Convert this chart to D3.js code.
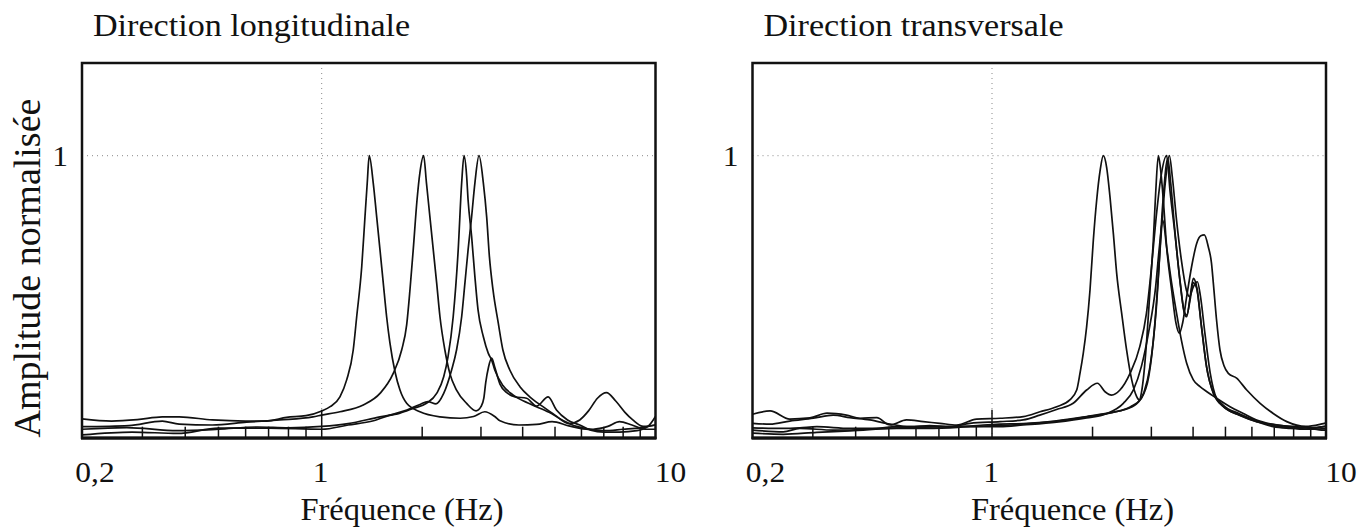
<!DOCTYPE html>
<html>
<head>
<meta charset="utf-8">
<script src="https://cdn.jsdelivr.net/npm/d3@7"></script>
<style>
  html, body { margin: 0; padding: 0; background: #fff; }
  svg text { font-family: "Liberation Serif", "Times New Roman", serif; fill: #111; }
</style>
</head>
<body>
<svg id="chart" width="1357" height="527"></svg>
<script>
// Normalised amplitude spectra, [frequency (Hz), amplitude]
// Longitudinal direction
const long1 = [[0.2,0.067],[0.244,0.059],[0.29,0.064],[0.343,0.074],[0.384,0.074],[0.48,0.063],[0.6,0.059],[0.69,0.059],[0.79,0.072],[0.9,0.078],[1.0,0.095],[1.06,0.11],[1.134,0.145],[1.188,0.205],[1.243,0.311],[1.273,0.429],[1.318,0.606],[1.348,0.784],[1.369,0.903],[1.388,1.0],[1.427,0.903],[1.461,0.784],[1.495,0.666],[1.529,0.549],[1.565,0.429],[1.601,0.336],[1.658,0.234],[1.716,0.169],[1.797,0.122],[1.969,0.092],[2.261,0.074],[2.6,0.069],[2.85,0.075],[3.08,0.092],[3.3,0.075],[3.42,0.06],[3.9,0.045],[4.4,0.047],[4.9,0.057],[5.5,0.042],[6.2,0.03],[7.0,0.025],[8.0,0.03],[9.0,0.035],[10,0.045]];
const long2 = [[0.2,0.039],[0.274,0.043],[0.343,0.059],[0.384,0.048],[0.48,0.045],[0.604,0.055],[0.755,0.063],[0.943,0.074],[1.0,0.08],[1.134,0.092],[1.332,0.116],[1.495,0.157],[1.638,0.228],[1.736,0.311],[1.797,0.40],[1.84,0.53],[1.88,0.666],[1.93,0.843],[1.969,0.94],[2.02,1.0],[2.06,0.903],[2.109,0.784],[2.159,0.666],[2.21,0.549],[2.261,0.429],[2.339,0.311],[2.42,0.228],[2.535,0.169],[2.717,0.122],[2.9,0.095],[3.0,0.11],[3.06,0.14],[3.1,0.195],[3.16,0.25],[3.23,0.282],[3.3,0.25],[3.42,0.19],[3.6,0.158],[3.8,0.145],[4.11,0.14],[4.4,0.112],[4.77,0.145],[5.05,0.098],[5.45,0.063],[5.93,0.045],[6.4,0.027],[7.0,0.02],[7.8,0.02],[8.8,0.025],[9.5,0.04],[10,0.075]];
const long3 = [[0.2,0.03],[0.27,0.036],[0.38,0.025],[0.5,0.03],[0.65,0.038],[0.8,0.035],[1.0,0.04],[1.2,0.05],[1.495,0.074],[1.716,0.087],[1.88,0.104],[2.06,0.122],[2.21,0.157],[2.32,0.216],[2.39,0.287],[2.477,0.429],[2.564,0.666],[2.626,0.903],[2.669,1.0],[2.717,0.93],[2.745,0.843],[2.813,0.713],[2.877,0.571],[2.94,0.453],[3.05,0.358],[3.154,0.30],[3.23,0.275],[3.30,0.24],[3.49,0.185],[3.75,0.151],[4.2,0.12],[4.8,0.09],[5.3,0.06],[5.8,0.04],[6.5,0.03],[7.2,0.04],[7.8,0.057],[8.5,0.045],[9.3,0.03],[10,0.03]];
const long4 = [[0.2,0.01],[0.28,0.02],[0.38,0.015],[0.5,0.034],[0.7,0.034],[1.0,0.03],[1.2,0.045],[1.43,0.06],[1.6,0.08],[1.8,0.098],[1.97,0.118],[2.08,0.128],[2.2,0.12],[2.32,0.157],[2.45,0.24],[2.535,0.311],[2.626,0.429],[2.686,0.549],[2.745,0.666],[2.813,0.784],[2.877,0.903],[2.96,1.0],[3.05,0.903],[3.12,0.784],[3.18,0.642],[3.26,0.524],[3.38,0.407],[3.49,0.311],[3.66,0.24],[3.925,0.181],[4.2,0.145],[4.6,0.11],[5.0,0.08],[5.5,0.05],[5.93,0.063],[6.3,0.095],[6.7,0.14],[7.13,0.16],[7.6,0.13],[8.1,0.09],[8.55,0.063],[9.2,0.04],[10,0.045]];

// Transverse direction
const trans1 = [[0.2,0.083],[0.225,0.095],[0.257,0.066],[0.294,0.07],[0.33,0.087],[0.376,0.08],[0.412,0.069],[0.461,0.071],[0.504,0.045],[0.563,0.063],[0.63,0.057],[0.705,0.051],[0.789,0.045],[0.902,0.066],[1.057,0.069],[1.241,0.075],[1.392,0.092],[1.562,0.11],[1.71,0.134],[1.793,0.169],[1.834,0.228],[1.876,0.299],[1.92,0.393],[1.965,0.523],[2.011,0.701],[2.058,0.843],[2.107,0.947],[2.154,1.0],[2.204,0.959],[2.256,0.853],[2.309,0.723],[2.362,0.583],[2.445,0.441],[2.529,0.311],[2.62,0.205],[2.711,0.146],[2.761,0.134],[2.8,0.158],[2.85,0.228],[2.905,0.346],[2.972,0.523],[3.041,0.701],[3.09,0.866],[3.148,1.0],[3.2,0.947],[3.259,0.84],[3.334,0.675],[3.451,0.523],[3.555,0.406],[3.638,0.37],[3.72,0.406],[3.827,0.5],[3.96,0.607],[4.1,0.689],[4.22,0.716],[4.322,0.719],[4.44,0.678],[4.54,0.62],[4.6,0.547],[4.7,0.42],[4.815,0.311],[4.95,0.255],[5.1,0.228],[5.4,0.211],[5.79,0.169],[6.35,0.122],[6.95,0.086],[7.63,0.057],[8.7,0.04],[9.82,0.05],[10,0.052]];
const trans2 = [[0.2,0.051],[0.225,0.048],[0.257,0.059],[0.301,0.069],[0.344,0.08],[0.385,0.071],[0.44,0.063],[0.504,0.048],[0.576,0.039],[0.659,0.043],[0.754,0.039],[0.863,0.051],[1.057,0.057],[1.24,0.063],[1.39,0.08],[1.56,0.1],[1.75,0.122],[1.92,0.169],[2.068,0.193],[2.18,0.163],[2.28,0.151],[2.416,0.169],[2.59,0.228],[2.77,0.323],[2.9,0.441],[3.0,0.6],[3.1,0.78],[3.2,0.92],[3.334,1.0],[3.41,0.878],[3.53,0.723],[3.655,0.557],[3.77,0.44],[3.827,0.429],[3.92,0.5],[4.007,0.565],[4.1,0.535],[4.24,0.394],[4.39,0.252],[4.6,0.157],[4.927,0.11],[5.53,0.08],[6.2,0.057],[6.96,0.039],[7.81,0.033],[8.76,0.03],[9.82,0.039],[10,0.04]];
const trans3 = [[0.2,0.035],[0.246,0.033],[0.275,0.035],[0.308,0.039],[0.385,0.033],[0.504,0.033],[0.603,0.033],[0.754,0.035],[0.943,0.045],[1.057,0.048],[1.24,0.05],[1.56,0.06],[1.92,0.075],[2.2,0.086],[2.47,0.098],[2.71,0.12],[2.85,0.16],[2.97,0.25],[3.1,0.45],[3.2,0.7],[3.3,0.9],[3.396,1.0],[3.47,0.92],[3.57,0.77],[3.7,0.62],[3.827,0.52],[3.9,0.5],[4.007,0.535],[4.12,0.553],[4.21,0.5],[4.34,0.37],[4.5,0.23],[4.7,0.14],[5.0,0.105],[5.5,0.08],[6.2,0.057],[7.1,0.045],[8.0,0.04],[9,0.035],[10,0.04]];
const trans4 = [[0.2,0.027],[0.246,0.021],[0.275,0.033],[0.344,0.027],[0.431,0.03],[0.539,0.039],[0.754,0.039],[1.057,0.039],[1.24,0.045],[1.56,0.055],[1.92,0.07],[2.2,0.085],[2.473,0.122],[2.649,0.169],[2.8,0.252],[2.94,0.37],[3.09,0.535],[3.17,0.675],[3.245,0.772],[3.334,0.675],[3.451,0.547],[3.571,0.44],[3.69,0.346],[3.827,0.264],[4.007,0.205],[4.196,0.181],[4.4,0.163],[4.706,0.14],[5.16,0.11],[5.656,0.086],[6.2,0.063],[6.96,0.047],[7.81,0.039],[8.76,0.035],[9.82,0.027],[10,0.027]];
const trans5 = [[0.2,0.016],[0.246,0.012],[0.308,0.019],[0.385,0.024],[0.504,0.033],[0.674,0.038],[1.057,0.043],[1.3,0.05],[1.6,0.06],[1.95,0.075],[2.3,0.09],[2.6,0.11],[2.8,0.14],[2.95,0.22],[3.05,0.36],[3.15,0.58],[3.25,0.84],[3.36,0.99],[3.43,0.9],[3.53,0.73],[3.65,0.56],[3.76,0.45],[3.827,0.435],[3.92,0.49],[4.0,0.55],[4.1,0.53],[4.24,0.39],[4.39,0.25],[4.6,0.16],[4.93,0.115],[5.5,0.085],[6.2,0.06],[7,0.042],[8,0.035],[9,0.03],[10,0.032]];

// Axis labels and ticks
const xTickLabels = [{ v: 0.2, text: "0,2" }, { v: 1, text: "1" }, { v: 10, text: "10" }];
const xMinorTicks = [0.3, 0.4, 0.5, 0.6, 0.7, 0.8, 0.9, 2, 3, 4, 5, 6, 7, 8, 9];
const yTickLabels = [{ v: 1, text: "1" }];
const panelTitles = ["Direction longitudinale", "Direction transversale"];
const xAxisTitle = "Fréquence (Hz)";
const yAxisTitle = "Amplitude normalisée";

const svg = d3.select("#chart");
svg.append("rect").attr("width", 1357).attr("height", 527).attr("fill", "#fff");

const plotTop = 63, plotBottom = 437.7;
const yScale = d3.scaleLinear().domain([0, 1]).range([plotBottom, 155.7]);

const panels = [
  { title: panelTitles[0], series: [long1, long2, long3, long4], px: [82, 321.7, 655.5], yTitle: true },
  { title: panelTitles[1], series: [trans1, trans2, trans3, trans4, trans5], px: [752.5, 992, 1326], yTitle: false }
];

panels.forEach((p, i) => {
  const x = d3.scaleLog().domain([0.2, 1, 10]).range(p.px);
  const left = p.px[0], right = p.px[2];
  const g = svg.append("g");

  const clipId = "clip" + i;
  svg.append("clipPath").attr("id", clipId)
    .append("rect").attr("x", left).attr("y", plotTop).attr("width", right - left).attr("height", plotBottom - plotTop);

  // dotted reference lines at f = 1 Hz and amplitude = 1
  g.append("line")
    .attr("x1", left).attr("x2", right).attr("y1", yScale(1)).attr("y2", yScale(1))
    .attr("stroke", "#888").attr("stroke-width", 1).attr("stroke-dasharray", "1,4");
  g.append("line")
    .attr("x1", x(1)).attr("x2", x(1)).attr("y1", plotTop).attr("y2", plotBottom)
    .attr("stroke", "#888").attr("stroke-width", 1).attr("stroke-dasharray", "1,4");

  // spectra
  const line = d3.line()
    .x(d => x(d[0]))
    .y(d => yScale(d[1]))
    .curve(d3.curveMonotoneX);
  g.append("g").attr("clip-path", `url(#${clipId})`)
    .selectAll("path").data(p.series).join("path")
    .attr("d", line)
    .attr("fill", "none")
    .attr("stroke", "#111")
    .attr("stroke-width", 1.7)
    .attr("stroke-linejoin", "round");

  // tick marks along the bottom edge, pointing inward
  g.selectAll("line.minor").data(xMinorTicks).join("line")
    .attr("class", "minor")
    .attr("x1", d => x(d)).attr("x2", d => x(d))
    .attr("y1", plotBottom).attr("y2", plotBottom - 11)
    .attr("stroke", "#111").attr("stroke-width", 1.5);
  g.append("line")
    .attr("x1", x(1)).attr("x2", x(1)).attr("y1", plotBottom).attr("y2", plotBottom - 28)
    .attr("stroke", "#111").attr("stroke-width", 1.5);

  // frame
  g.append("rect")
    .attr("x", left).attr("y", plotTop).attr("width", right - left).attr("height", plotBottom - plotTop)
    .attr("fill", "none").attr("stroke", "#111").attr("stroke-width", 2.5);
  g.append("line")
    .attr("x1", left - 1).attr("x2", right + 1).attr("y1", plotBottom + 0.5).attr("y2", plotBottom + 0.5)
    .attr("stroke", "#111").attr("stroke-width", 3);

  // x tick labels
  const labelShift = { 0.2: 13, 1: -1, 10: 15 };
  g.selectAll("text.xt").data(xTickLabels).join("text")
    .attr("class", "xt")
    .attr("text-anchor", "middle")
    .attr("font-size", 30)
    .attr("transform", d => `translate(${x(d.v) + labelShift[d.v]},482) scale(1.05,1)`)
    .text(d => d.text);

  // y tick label
  g.selectAll("text.yt").data(yTickLabels).join("text")
    .attr("class", "yt")
    .attr("text-anchor", "end")
    .attr("font-size", 30)
    .attr("transform", d => `translate(${left - 14},${yScale(d.v) + 10}) scale(1.05,1)`)
    .text(d => d.text);

  // axis title
  g.append("text")
    .attr("text-anchor", "middle")
    .attr("font-size", 31)
    .attr("transform", `translate(${left + 320},520) scale(1.05,1)`)
    .text(xAxisTitle);

  // panel title
  g.append("text")
    .attr("font-size", 31)
    .attr("transform", `translate(${left + 11},36) scale(1.1,1)`)
    .text(p.title);

  if (p.yTitle) {
    g.append("text")
      .attr("text-anchor", "middle")
      .attr("font-size", 38)
      .attr("transform", `translate(40,268) rotate(-90)`)
      .text(yAxisTitle);
  }
});
</script>
</body>
</html>
